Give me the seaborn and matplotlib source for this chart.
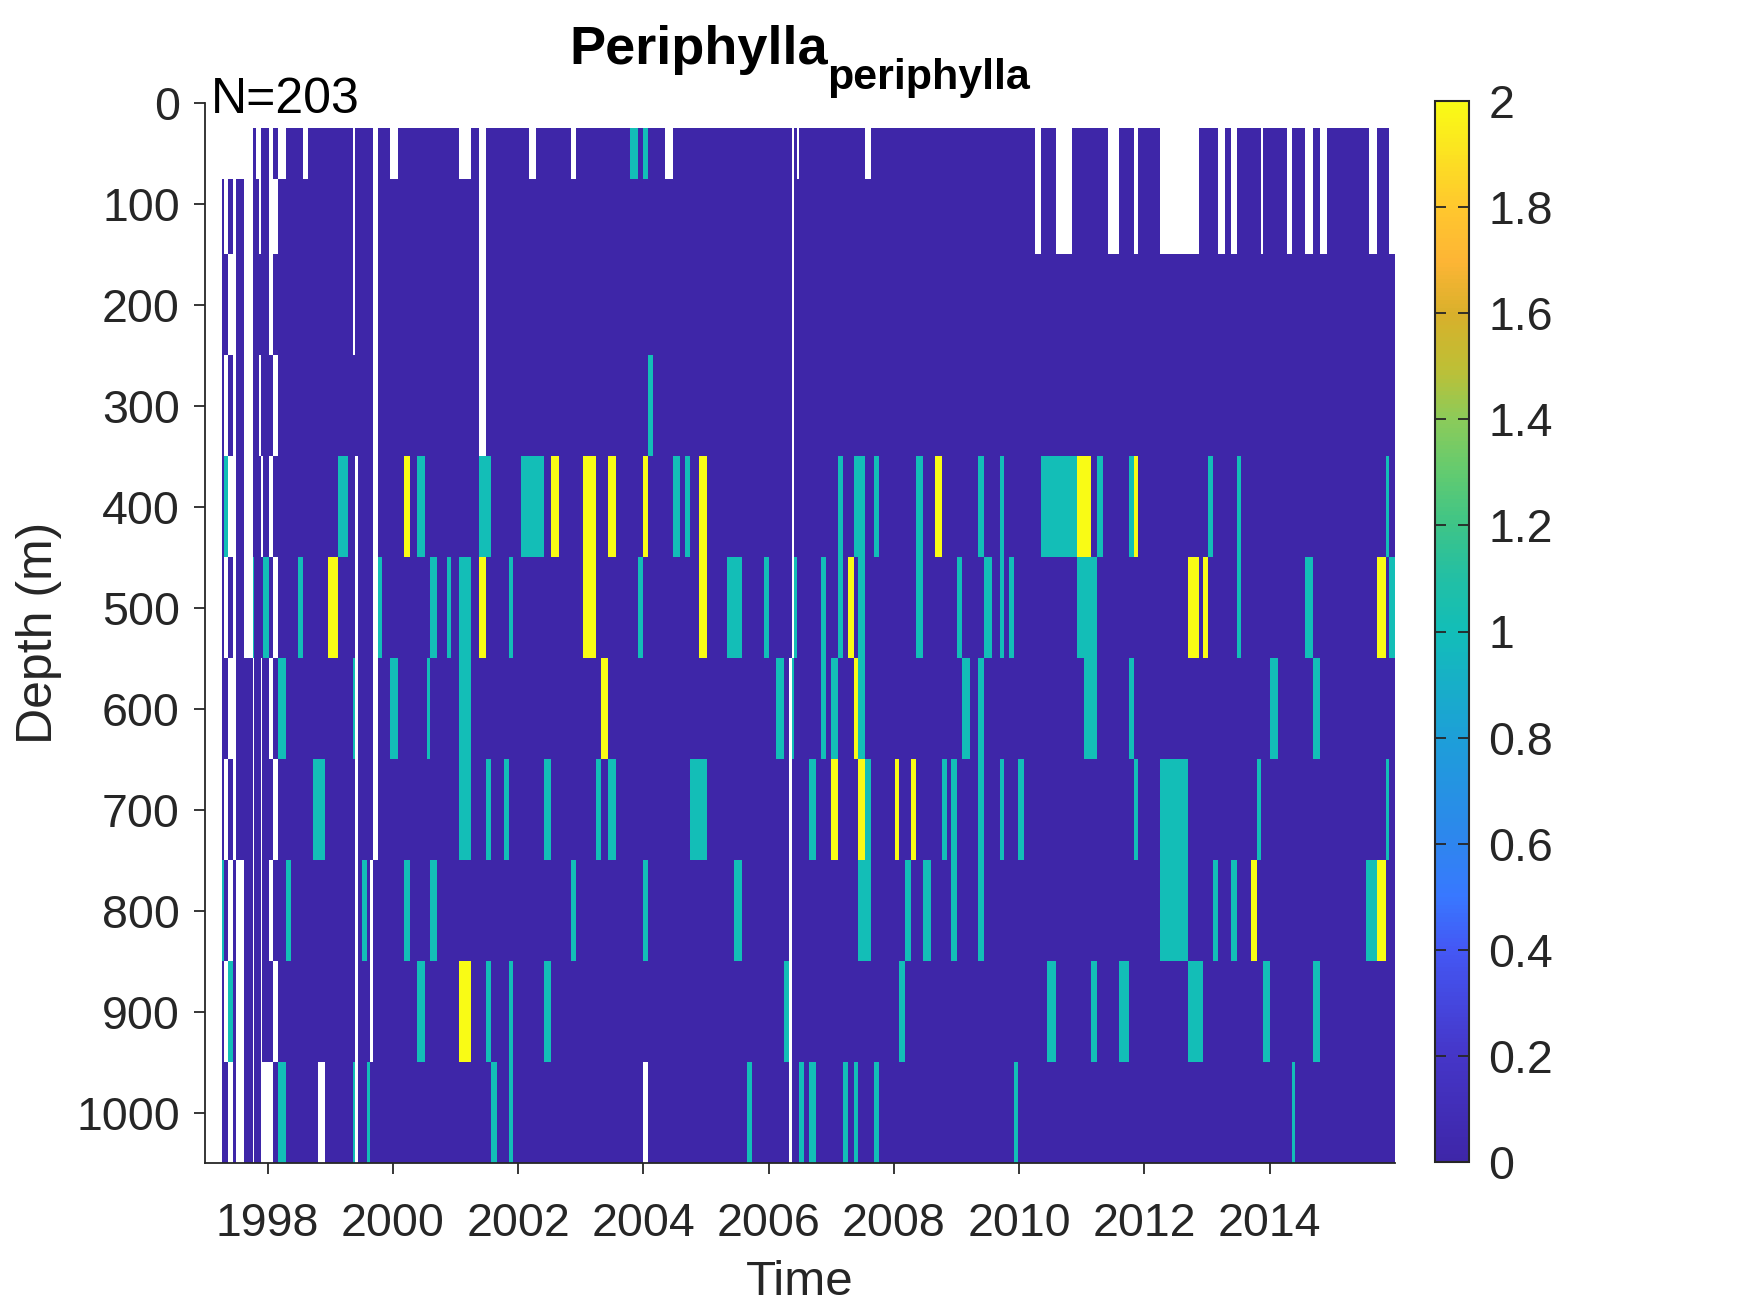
import numpy as np
import pandas as pd
import matplotlib
matplotlib.use("Agg")
import matplotlib.pyplot as plt
from matplotlib.colors import LinearSegmentedColormap
import seaborn as sns

# depth bands in metres, all times in decimal years
band_tops = [25, 75, 150, 250, 350, 450, 550, 650, 750, 850, 950]
band_bottoms = [75, 150, 250, 350, 450, 550, 650, 750, 850, 950, 1050]

# no sample
late_gaps = [(2010.26, 2010.34), (2010.58, 2010.85), (2011.41, 2011.59), (2011.83, 2011.89),
             (2012.24, 2012.87), (2013.18, 2013.28), (2013.38, 2013.47), (2013.86, 2013.90),
             (2014.27, 2014.35), (2014.57, 2014.69), (2014.81, 2014.91), (2015.58, 2015.72),
             (2015.91, 2016.0)]
gaps_25 = [(1997.0, 1997.76), (1997.82, 1997.89), (1998.02, 1998.08), (1998.16, 1998.29),
           (1998.57, 1998.65), (1999.37, 1999.40), (1999.69, 1999.76), (1999.95, 2000.08),
           (2001.05, 2001.24), (2001.38, 2001.48), (2002.17, 2002.28), (2002.85, 2002.92),
           (2004.34, 2004.48), (2006.38, 2006.41), (2006.46, 2006.49), (2007.53, 2007.63)] + late_gaps
gaps_75 = [(1997.0, 1997.27), (1997.31, 1997.36), (1997.44, 1997.49), (1997.62, 1997.76),
           (1997.86, 1997.89), (1998.02, 1998.16), (1999.37, 1999.40), (1999.69, 1999.76),
           (2001.38, 2001.48), (2006.38, 2006.41)] + late_gaps
gaps_150 = [(1997.0, 1997.27), (1997.36, 1997.49), (1997.62, 1997.76), (1998.02, 1998.08),
            (1999.37, 1999.40), (1999.69, 1999.76), (2001.38, 2001.48), (2006.38, 2006.41)]
gaps_250 = [(1997.0, 1997.27), (1997.31, 1997.36), (1997.44, 1997.49), (1997.62, 1997.76),
            (1997.86, 1997.89), (1998.08, 1998.16), (1999.69, 1999.76), (2001.38, 2001.48),
            (2006.38, 2006.41)]
gaps_350 = [(1997.0, 1997.27), (1997.36, 1997.49), (1997.62, 1997.76), (1997.89, 1997.92),
            (1998.02, 1998.08), (1999.40, 1999.44), (1999.69, 1999.76), (2006.38, 2006.41)]
gaps_450 = [(1997.0, 1997.27), (1997.31, 1997.36), (1997.44, 1997.49), (1997.62, 1997.76),
            (1998.08, 1998.16), (1999.40, 1999.44), (1999.69, 1999.76), (2006.38, 2006.41)]
gaps_550 = [(1997.0, 1997.27), (1997.36, 1997.49), (1997.76, 1997.78), (1997.89, 1997.91),
            (1998.02, 1998.08), (1999.40, 1999.44), (1999.69, 1999.76), (2006.33, 2006.37)]
gaps_650 = [(1997.0, 1997.27), (1997.31, 1997.36), (1997.44, 1997.49), (1997.76, 1997.78),
            (1997.89, 1997.91), (1998.08, 1998.16), (1999.40, 1999.44), (1999.69, 1999.76),
            (2006.33, 2006.37)]
gaps_750 = [(1997.0, 1997.27), (1997.36, 1997.44), (1997.49, 1997.62), (1997.76, 1997.78),
            (1997.89, 1997.91), (1998.02, 1998.08), (1999.40, 1999.44), (1999.64, 1999.69),
            (2006.33, 2006.37)]
gaps_850 = [(1997.0, 1997.27), (1997.31, 1997.36), (1997.49, 1997.62), (1997.76, 1997.78),
            (1997.89, 1997.91), (1998.08, 1998.16), (1999.40, 1999.44), (1999.64, 1999.69),
            (2006.33, 2006.37)]
gaps_950 = [(1997.0, 1997.27), (1997.36, 1997.44), (1997.49, 1997.62), (1997.76, 1997.78),
            (1997.89, 1998.08), (1998.81, 1998.91), (1999.40, 1999.44), (2004.00, 2004.08),
            (2006.33, 2006.37)]

# count of 1
ones_25 = [(2003.78, 2003.91), (2004.00, 2004.08)]
ones_75 = []
ones_150 = []
ones_250 = [(2004.08, 2004.15)]
ones_350 = [(1997.31, 1997.36), (1999.12, 1999.28), (2000.39, 2000.51), (2001.38, 2001.56),
            (2002.04, 2002.41), (2004.48, 2004.58), (2004.67, 2004.75), (2007.10, 2007.18),
            (2007.36, 2007.53), (2007.68, 2007.76), (2008.36, 2008.46), (2009.35, 2009.43),
            (2009.69, 2009.75), (2010.34, 2010.93), (2011.24, 2011.33), (2011.76, 2011.83),
            (2013.01, 2013.09), (2013.47, 2013.54), (2015.85, 2015.91)]
ones_450 = [(1997.76, 1997.78), (1997.92, 1998.02), (1998.48, 1998.57), (1999.76, 1999.82),
            (2000.60, 2000.70), (2000.86, 2000.92), (2001.05, 2001.24), (2001.85, 2001.91),
            (2003.91, 2004.00), (2005.34, 2005.57), (2005.92, 2006.00), (2006.41, 2006.46),
            (2006.83, 2006.91), (2007.10, 2007.18), (2007.42, 2007.53), (2008.36, 2008.46),
            (2009.00, 2009.08), (2009.43, 2009.56), (2009.69, 2009.75), (2009.83, 2009.91),
            (2010.93, 2011.24), (2013.47, 2013.54), (2014.57, 2014.69), (2015.91, 2016.0)]
ones_550 = [(1998.16, 1998.29), (1999.37, 1999.40), (1999.95, 2000.08), (2000.55, 2000.60),
            (2001.05, 2001.24), (2006.11, 2006.25), (2006.37, 2006.41), (2006.83, 2006.91),
            (2007.00, 2007.10), (2007.42, 2007.53), (2009.08, 2009.22), (2009.35, 2009.43),
            (2011.03, 2011.24), (2011.76, 2011.83), (2014.00, 2014.13), (2014.69, 2014.81)]
ones_650 = [(1998.72, 1998.91), (2001.05, 2001.24), (2001.48, 2001.56), (2001.78, 2001.85),
            (2002.41, 2002.53), (2003.24, 2003.32), (2003.43, 2003.56), (2004.75, 2005.01),
            (2006.65, 2006.75), (2007.53, 2007.63), (2008.76, 2008.84), (2008.91, 2009.00),
            (2009.35, 2009.43), (2009.69, 2009.75), (2009.98, 2010.07), (2011.83, 2011.89),
            (2012.24, 2012.69), (2013.79, 2013.86), (2015.85, 2015.91)]
ones_750 = [(1997.27, 1997.31), (1998.29, 1998.38), (1999.50, 1999.58), (2000.17, 2000.28),
            (2000.60, 2000.70), (2002.85, 2002.92), (2004.00, 2004.08), (2005.44, 2005.57),
            (2007.42, 2007.63), (2008.17, 2008.28), (2008.46, 2008.59), (2008.91, 2009.00),
            (2009.35, 2009.43), (2012.24, 2012.69), (2013.09, 2013.18), (2013.38, 2013.47),
            (2015.53, 2015.72)]
ones_850 = [(1997.36, 1997.44), (2000.39, 2000.51), (2001.48, 2001.56), (2001.85, 2001.91),
            (2002.41, 2002.53), (2006.25, 2006.33), (2008.08, 2008.17), (2010.44, 2010.58),
            (2011.14, 2011.24), (2011.59, 2011.76), (2012.69, 2012.93), (2013.90, 2014.00),
            (2014.69, 2014.81)]
ones_950 = [(1998.16, 1998.29), (1999.37, 1999.40), (1999.58, 1999.64), (2001.56, 2001.67),
            (2001.85, 2001.91), (2005.65, 2005.73), (2006.49, 2006.56), (2006.65, 2006.75),
            (2007.18, 2007.26), (2007.36, 2007.42), (2007.68, 2007.76), (2009.91, 2009.98),
            (2014.35, 2014.41)]

# count of 2
twos_350 = [(2000.17, 2000.28), (2002.53, 2002.65), (2003.04, 2003.24), (2003.43, 2003.56),
            (2004.00, 2004.08), (2004.88, 2005.01), (2008.66, 2008.76), (2010.93, 2011.14),
            (2011.83, 2011.89)]
twos_450 = [(1998.97, 1999.12), (2001.38, 2001.48), (2003.04, 2003.24), (2004.88, 2005.01),
            (2007.26, 2007.36), (2012.69, 2012.87), (2012.93, 2013.01), (2015.72, 2015.85)]
twos_550 = [(2003.32, 2003.43), (2007.36, 2007.42)]
twos_650 = [(2007.00, 2007.10), (2007.42, 2007.53), (2008.01, 2008.08), (2008.28, 2008.36)]
twos_750 = [(2013.70, 2013.79), (2015.72, 2015.85)]
twos_850 = [(2001.05, 2001.24)]

band_gaps = [gaps_25, gaps_75, gaps_150, gaps_250, gaps_350, gaps_450, gaps_550, gaps_650,
             gaps_750, gaps_850, gaps_950]
band_ones = [ones_25, ones_75, ones_150, ones_250, ones_350, ones_450, ones_550, ones_650,
             ones_750, ones_850, ones_950]
band_twos = [[], [], [], [], twos_350, twos_450, twos_550, twos_650, twos_750, twos_850, []]

x_ticks = [1998, 2000, 2002, 2004, 2006, 2008, 2010, 2012, 2014]
y_ticks = [0, 100, 200, 300, 400, 500, 600, 700, 800, 900, 1000]
cbar_ticks = [0, 0.2, 0.4, 0.6, 0.8, 1, 1.2, 1.4, 1.6, 1.8, 2]
cbar_labels = ["0", "0.2", "0.4", "0.6", "0.8", "1", "1.2", "1.4", "1.6", "1.8", "2"]

parula = LinearSegmentedColormap.from_list(
    "parula_like",
    [(0.0, "#3E26A8"), (0.1, "#4536C8"), (0.2, "#4458F5"), (0.25, "#3878FF"), (0.3, "#2E86EE"),
     (0.4, "#1D9FD8"), (0.5, "#12BEB8"), (0.55, "#22BFA5"), (0.6, "#3DC488"), (0.65, "#62CB70"),
     (0.7, "#8BCB5A"), (0.75, "#BFBF35"), (0.8, "#D8B02B"), (0.85, "#FDB535"), (0.9, "#FFC72E"),
     (1.0, "#F9FB15")],
)

# gridded so sns.heatmap can draw it
t_step = 0.01
d_step = 25
t_edges = np.arange(1997.0, 2016.0, t_step)
d_edges = np.arange(0, 1050, d_step)
grid = pd.DataFrame(0.0, index=d_edges, columns=np.round(t_edges, 2))
grid.iloc[:1, :] = np.nan


def paint(top, bottom, spans, value):
    rows = (d_edges >= top) & (d_edges < bottom)
    for start, end in spans:
        cols = (t_edges >= start - 1e-6) & (t_edges < end - 1e-6)
        grid.values[np.ix_(rows, cols)] = value


for top, bottom, gaps, ones, twos in zip(band_tops, band_bottoms, band_gaps, band_ones, band_twos):
    paint(top, bottom, gaps, np.nan)
    paint(top, bottom, ones, 1.0)
    paint(top, bottom, twos, 2.0)

W, H = 1750, 1313
sns.set_theme(style="ticks", rc={"axes.edgecolor": "#262626", "xtick.color": "#262626",
                                 "ytick.color": "#262626", "text.color": "#262626",
                                 "axes.labelcolor": "#262626"})
plt.rcParams["font.family"] = ["Liberation Sans", "DejaVu Sans"]

fig = plt.figure(figsize=(W / 100, H / 100), dpi=100)
ax = fig.add_axes([205 / W, 1 - 1163 / H, 1190 / W, (1163 - 103) / H])
cax = fig.add_axes([1435 / W, 1 - 1162 / H, 34 / W, (1162 - 101) / H])

sns.heatmap(grid, ax=ax, cbar_ax=cax, cmap=parula, vmin=0, vmax=2,
            xticklabels=False, yticklabels=False)

ax.set_xticks([(t - 1997.0) / t_step for t in x_ticks])
ax.set_xticklabels([str(t) for t in x_ticks], rotation=0)
ax.set_yticks([d / d_step for d in y_ticks])
ax.set_yticklabels([str(d) for d in y_ticks], rotation=0)
ax.tick_params(axis="both", labelsize=33.5, direction="out", length=8, width=1.3)
ax.tick_params(axis="x", pad=20)
ax.tick_params(axis="y", pad=10)
ax.set_xlabel("Time", fontsize=35.5, labelpad=10)
ax.set_ylabel("Depth (m)", fontsize=36, labelpad=10)
for side in ["left", "bottom"]:
    ax.spines[side].set_visible(True)
    ax.spines[side].set_linewidth(1.3)
    ax.spines[side].set_color("#262626")

ax.text(0.005, 0.9906, "N=203", transform=ax.transAxes, fontsize=36, color="black",
        va="baseline", ha="left")
fig.text(0.3252, 0.9516, "Periphylla", fontsize=39, fontweight="bold", color="black",
         va="baseline", ha="left")
fig.text(0.4726, 0.932, "periphylla", fontsize=31, fontweight="bold", color="black",
         va="baseline", ha="left")

cbar = ax.collections[0].colorbar
cbar.set_ticks(cbar_ticks, labels=cbar_labels)
cbar.ax.set_axisbelow(False)
cbar.ax.tick_params(labelsize=33.5, direction="in", length=8, width=1.3, left=True, right=True, pad=14)
cbar.outline.set_visible(True)
cbar.outline.set_edgecolor("#262626")
cbar.outline.set_linewidth(1.5)

fig.savefig("out.png", dpi=100, facecolor="white")
